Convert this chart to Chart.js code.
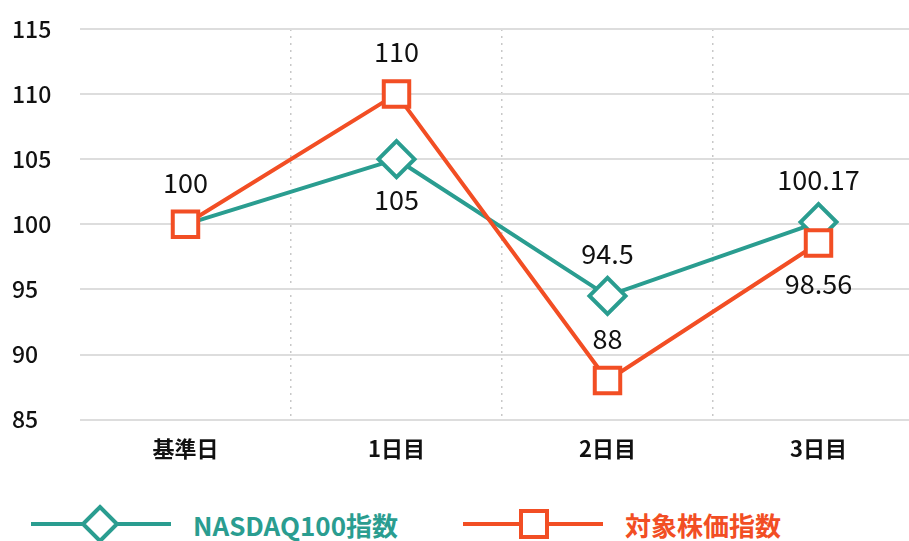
<!DOCTYPE html>
<html>
<head>
<meta charset="utf-8">
<script src="https://cdn.jsdelivr.net/npm/chart.js@4/dist/chart.umd.min.js"></script>
<style>
  html, body { margin: 0; padding: 0; background: #fff; overflow: hidden; }
  #wrap { position: relative; width: 970px; height: 541px; overflow: hidden; }
  #c { position: absolute; left: 0; top: 0; }
  #legend { position: absolute; left: 0; top: 504px; width: 909px; height: 40px; font-family: "Noto Sans CJK JP", sans-serif; font-weight: bold; font-size: 26px; white-space: nowrap; }
  .item { position: absolute; top: 0; display: flex; align-items: center; height: 40px; white-space: nowrap; }
  .item svg { margin-right: 22px; flex: none; }
</style>
</head>
<body>
<div id="wrap">
  <canvas id="c" width="946" height="488"></canvas>
  <div id="legend"></div>
</div>
<script>
// data
const days = ['基準日', '1日目', '2日目', '3日目'];
const nasdaq = [100, 105, 94.5, 100.17];
const target = [100, 110, 88, 98.56];
const seriesNames = ['NASDAQ100指数', '対象株価指数'];
const yTicks = [85, 90, 95, 100, 105, 110, 115];

// where each value label sits (none / above / below)
const nasdaqLabelPos = ['none', 'below', 'above', 'above'];
const targetLabelPos = ['above', 'above', 'above', 'below'];

const TEAL = '#2a9d90';
const ORANGE = '#f24e24';

// value labels drawn next to the points
const valueLabels = {
  id: 'valueLabels',
  afterDatasetsDraw(chart) {
    const ctx = chart.ctx;
    const posLists = [nasdaqLabelPos, targetLabelPos];
    ctx.save();
    ctx.font = '27px "Noto Sans CJK JP", sans-serif';
    ctx.fillStyle = '#111';
    ctx.textAlign = 'center';
    ctx.textBaseline = 'middle';
    chart.data.datasets.forEach((ds, i) => {
      const meta = chart.getDatasetMeta(i);
      meta.data.forEach((pt, j) => {
        const pos = posLists[i][j];
        if (pos === 'none') return;
        const dy = pos === 'above' ? -42 : 41;
        ctx.fillText(String(ds.data[j]), pt.x, pt.y + dy);
      });
    });
    ctx.restore();
  }
};

new Chart(document.getElementById('c'), {
  type: 'line',
  data: {
    labels: days,
    datasets: [
      {
        label: seriesNames[0],
        data: nasdaq,
        order: 2,
        borderColor: TEAL,
        borderWidth: 4,
        pointStyle: 'rectRot',
        pointRadius: [0, 18, 18, 18],
        pointBorderWidth: 4,
        pointBackgroundColor: '#fff',
        pointBorderColor: TEAL,
        tension: 0
      },
      {
        label: seriesNames[1],
        data: target,
        order: 1,
        borderColor: ORANGE,
        borderWidth: 4,
        pointStyle: 'rect',
        pointRadius: 18,
        pointBorderWidth: 4,
        pointBackgroundColor: '#fff',
        pointBorderColor: ORANGE,
        tension: 0
      }
    ]
  },
  options: {
    responsive: false,
    animation: false,
    layout: { padding: { left: 12, right: 2, top: 29, bottom: 10 } },
    plugins: {
      legend: { display: false },
      tooltip: { enabled: false }
    },
    scales: {
      x: {
        offset: true,
        grid: {
          offset: true,
          drawTicks: false,
          lineWidth: 1.5,
          color: c => (c.index === 0 ? 'rgba(0,0,0,0)' : '#c8c8c8')
        },
        border: { display: false, dash: [2, 5] },
        ticks: {
          padding: 16,
          color: '#111',
          font: { family: '"Noto Sans CJK JP", sans-serif', size: 22, weight: 'bold' }
        }
      },
      y: {
        min: 85,
        max: 115,
        afterBuildTicks: s => { s.ticks = yTicks.map(v => ({ value: v })); },
        afterFit: s => { s.width = 68; },
        grid: { color: '#dddddd', lineWidth: 2, drawTicks: false },
        border: { display: false },
        ticks: {
          crossAlign: 'far',
          padding: 3,
          color: '#111',
          font: { family: '"Noto Sans CJK JP", sans-serif', size: 23, weight: '500' }
        }
      }
    }
  },
  plugins: [valueLabels]
});

// legend below the chart
function legendItem(left, name, color, marker) {
  const shape = marker === 'diamond'
    ? `<polygon points="69,3 86,20 69,37 52,20" fill="#fff" stroke="${color}" stroke-width="4"/>`
    : `<rect x="58" y="7" width="26" height="26" fill="#fff" stroke="${color}" stroke-width="4"/>`;
  const div = document.createElement('div');
  div.className = 'item';
  div.style.left = left + 'px';
  div.style.color = color;
  div.innerHTML = `<svg width="140" height="40"><line x1="0" y1="20" x2="140" y2="20" stroke="${color}" stroke-width="4"/>${shape}</svg><span>${name}</span>`;
  document.getElementById('legend').appendChild(div);
}
legendItem(31, seriesNames[0], TEAL, 'diamond');
legendItem(463, seriesNames[1], ORANGE, 'square');
</script>
</body>
</html>
